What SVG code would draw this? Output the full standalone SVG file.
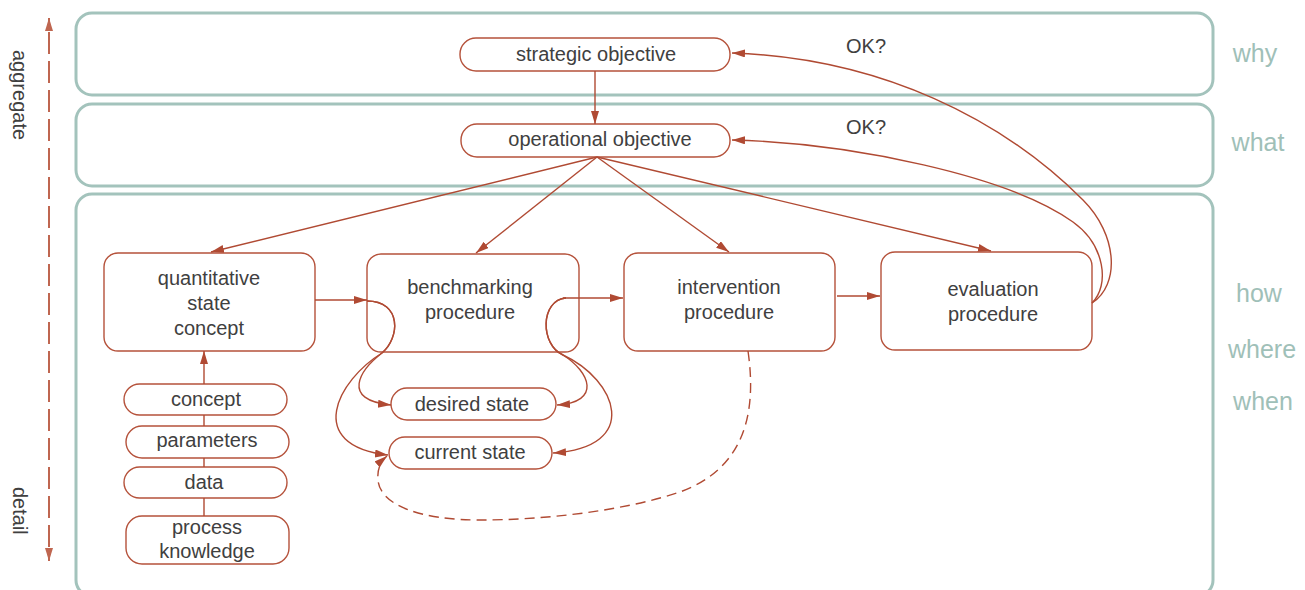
<svg xmlns="http://www.w3.org/2000/svg" width="1305" height="590" viewBox="0 0 1305 590">
<defs>
<marker id="ah" markerUnits="userSpaceOnUse" markerWidth="14" markerHeight="10" refX="13" refY="4" orient="auto"><path d="M0,0 L13,4 L0,8 z" fill="#b04a33"/></marker>
<marker id="ahAxis" markerUnits="userSpaceOnUse" markerWidth="14" markerHeight="10" refX="13" refY="4" orient="auto"><path d="M0,0 L13,4 L0,8 z" fill="#bf6650"/></marker>
</defs>
<style>
.band{fill:#fff;stroke:#a3c3bc;stroke-width:3}
.node{fill:#fff;stroke:#b5523b;stroke-width:1.4}
.t{font-family:"Liberation Sans",Arial,sans-serif;font-size:20px;fill:#404040;text-anchor:middle}
.lab{font-family:"Liberation Sans",Arial,sans-serif;font-size:25px;fill:#9fc0b8;text-anchor:middle}
.ax{font-family:"Liberation Sans",Arial,sans-serif;font-size:20px;fill:#404040}
.c{fill:none;stroke:#b04a33;stroke-width:1.4}
.d{stroke-dasharray:10 6}
.axis{fill:none;stroke:#bf6650;stroke-width:2;stroke-dasharray:22 7}
</style>

<g id="bands">
<rect class="band" x="76" y="13" width="1137" height="82" rx="16"/>
<rect class="band" x="76" y="104" width="1137" height="82" rx="16"/>
<rect class="band" x="76" y="194" width="1137" height="402" rx="16"/>
</g>

<g id="side-labels">
<text class="lab" x="1255" y="62">why</text>
<text class="lab" x="1258" y="151">what</text>
<text class="lab" x="1259" y="302">how</text>
<text class="lab" x="1262" y="358">where</text>
<text class="lab" x="1263" y="410">when</text>
</g>

<g id="axis">
<path class="axis" d="M49,32 L49,548"/>
<path d="M49,30 L49,18" fill="none" stroke="#bf6650" stroke-width="2" marker-end="url(#ahAxis)"/>
<path d="M49,549 L49,561" fill="none" stroke="#bf6650" stroke-width="2" marker-end="url(#ahAxis)"/>
<text class="ax" transform="translate(13,50) rotate(90)">aggregate</text>
<text class="ax" transform="translate(13,487) rotate(90)">detail</text>
</g>

<g id="n-strategic">
<rect class="node" x="460" y="38" width="270" height="33" rx="16"/>
<text class="t" x="596" y="61">strategic objective</text>
</g>
<g id="n-operational">
<rect class="node" x="461" y="124" width="269" height="33" rx="16"/>
<text class="t" x="600" y="146">operational objective</text>
</g>
<g id="n-quantitative">
<rect class="node" x="104" y="253" width="211" height="98" rx="14"/>
<text class="t" x="209" y="285">quantitative</text>
<text class="t" x="209" y="310">state</text>
<text class="t" x="209" y="335">concept</text>
</g>
<g id="n-benchmarking">
<rect class="node" x="367" y="254" width="212" height="98" rx="14"/>
<text class="t" x="470" y="294">benchmarking</text>
<text class="t" x="470" y="319">procedure</text>
</g>
<g id="n-intervention">
<rect class="node" x="624" y="253" width="211" height="98" rx="14"/>
<text class="t" x="729" y="294">intervention</text>
<text class="t" x="729" y="319">procedure</text>
</g>
<g id="n-evaluation">
<rect class="node" x="881" y="252" width="211" height="98" rx="14"/>
<text class="t" x="993" y="296">evaluation</text>
<text class="t" x="993" y="321">procedure</text>
</g>
<g id="n-concept">
<rect class="node" x="124" y="384" width="163" height="31" rx="15.5"/>
<text class="t" x="206" y="406">concept</text>
</g>
<g id="n-parameters">
<rect class="node" x="126" y="426" width="163" height="32" rx="16"/>
<text class="t" x="207" y="447">parameters</text>
</g>
<g id="n-data">
<rect class="node" x="124" y="467" width="163" height="31" rx="15.5"/>
<text class="t" x="204" y="489">data</text>
</g>
<g id="n-process">
<rect class="node" x="126" y="516" width="163" height="48" rx="16"/>
<text class="t" x="207" y="534">process</text>
<text class="t" x="207" y="558">knowledge</text>
</g>
<g id="n-desired">
<rect class="node" x="391" y="388" width="165" height="32" rx="16"/>
<text class="t" x="472" y="411">desired state</text>
</g>
<g id="n-current">
<rect class="node" x="389" y="437" width="163" height="32" rx="16"/>
<text class="t" x="470" y="459">current state</text>
</g>

<g id="connectors">
<path class="c" d="M595,71 L595,124" marker-end="url(#ah)"/>
<path class="c" d="M597,157 L211,252" marker-end="url(#ah)"/>
<path class="c" d="M597,157 L476,253" marker-end="url(#ah)"/>
<path class="c" d="M597,157 L729,252" marker-end="url(#ah)"/>
<path class="c" d="M597,157 L991,251" marker-end="url(#ah)"/>
<path class="c" d="M204,384 L204,351" marker-end="url(#ah)"/>
<path class="c" d="M204,415 L204,426 M204,458 L204,467 M204,498 L204,516"/>
<path class="c" d="M315,300 L367,300" marker-end="url(#ah)"/>
<path class="c" d="M563,298 L623,298" marker-end="url(#ah)"/>
<path class="c" d="M837,296 L880,296" marker-end="url(#ah)"/>
<path class="c" d="M367,301 C402,301 400,338 382,353 C360,370 340,400 391,405" marker-end="url(#ah)"/>
<path class="c" d="M367,301 C402,301 400,338 382,353 C338,380 303,445 388,455" marker-end="url(#ah)"/>
<path class="c" d="M566,298 C540,300 540,345 563,355 C590,372 602,402 557,405" marker-end="url(#ah)"/>
<path class="c" d="M566,298 C540,300 540,345 563,355 C617,380 642,447 553,453" marker-end="url(#ah)"/>
<path class="c d" d="M748,351 C758,420 740,470 680,492 C620,512 540,520 480,520 C420,520 380,505 378,480 C377,470 380,462 387,456" marker-end="url(#ah)"/>
<path class="c" d="M1092,303 C1120,285 1118,235 1083,200 C1003,120 882,58 732,53" marker-end="url(#ah)"/>
<path class="c" d="M1092,303 C1110,285 1105,245 1073,222 C1009,176 852,143 732,140" marker-end="url(#ah)"/>
<text class="t" x="866" y="53">OK?</text>
<text class="t" x="866" y="134">OK?</text>
</g>
</svg>
